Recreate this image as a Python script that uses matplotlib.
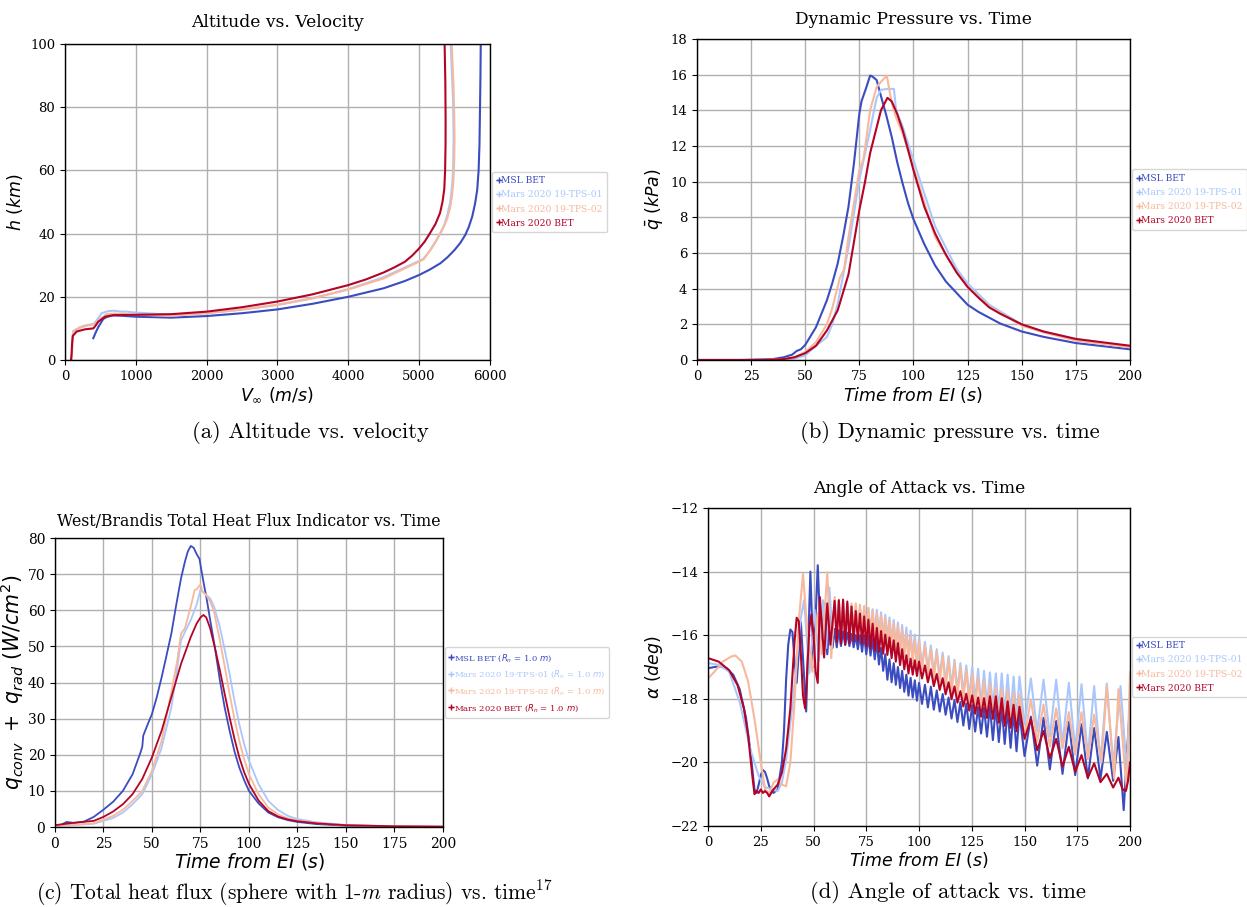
import matplotlib
matplotlib.use('Agg')
import matplotlib.pyplot as plt
from matplotlib.lines import Line2D

plt.rcParams['font.family'] = 'DejaVu Serif'
plt.rcParams['mathtext.fontset'] = 'dejavusans'

colors = ['#3b4cc0', '#aac7fd', '#f7b89c', '#b40426']
names = ['MSL BET', 'Mars 2020 19-TPS-01', 'Mars 2020 19-TPS-02', 'Mars 2020 BET']
names_c = [n + r' ($R_n$ = 1.0 $m$)' for n in names]

# (a) altitude vs velocity
vel_msl = [400, 430, 470, 541, 600, 682, 800, 1000, 1500, 2000, 2500, 3000, 3500, 4000, 4500, 4800, 5000,
           5150, 5300, 5400, 5500, 5580, 5650, 5700, 5750, 5790, 5820, 5840, 5852, 5860, 5866, 5870]
alt_msl = [6.9, 8.5, 10.4, 13.0, 13.7, 14.1, 14.0, 13.7, 13.4, 13.9, 14.8, 16.0, 17.8, 20.0, 22.7, 25.0, 26.9,
           28.6, 30.6, 32.5, 34.8, 37.0, 39.5, 42.0, 45.4, 49.5, 53.8, 60, 68, 80, 90, 100]
vel_tps1 = [95, 105, 118, 212, 300, 400, 430, 518, 600, 682, 800, 870, 1000, 1300, 1500, 2000, 2500, 3000,
            3500, 4000, 4500, 4800, 4950, 5060, 5150, 5220, 5300, 5360, 5400, 5440, 5465, 5480, 5487, 5480,
            5465, 5445]
alt_tps1 = [0, 6, 9.2, 10.4, 11.0, 11.4, 12.0, 14.8, 15.4, 15.6, 15.3, 15.3, 15.0, 14.6, 14.3, 14.8, 15.9, 17.4,
            19.5, 22.4, 26.2, 29.3, 30.8, 32, 34.5, 37, 40.2, 43, 46, 50, 55, 60, 70, 82, 90, 100]
vel_tps2 = [95, 105, 118, 212, 300, 400, 430, 494, 588, 700, 1000, 1500, 2000, 2500, 3000, 3500, 4000, 4500,
            4800, 4950, 5060, 5150, 5230, 5300, 5360, 5400, 5440, 5465, 5485, 5495, 5500, 5495, 5485, 5460]
alt_tps2 = [0, 6, 9.0, 10.2, 10.8, 11.2, 11.6, 12.9, 14.5, 14.7, 14.3, 14.0, 14.8, 16.0, 17.5, 19.6, 22.3, 25.8,
            29.0, 30.6, 31.8, 34.5, 37.3, 40.0, 42.8, 45.0, 48.5, 52, 57, 63, 70, 78, 87, 100]
vel_m20 = [85, 94, 100, 110, 165, 282, 400, 430, 470, 565, 682, 1000, 1500, 2000, 2500, 3000, 3500, 4000,
           4250, 4500, 4650, 4800, 4900, 5000, 5080, 5150, 5230, 5295, 5330, 5355, 5367, 5373, 5374, 5370,
           5360]
alt_m20 = [0, 2, 5, 7.6, 9.0, 9.7, 10.0, 10.8, 12.1, 13.7, 14.2, 14.3, 14.5, 15.3, 16.7, 18.5, 20.8, 23.7,
           25.5, 27.7, 29.3, 31.1, 33.0, 35.3, 37.5, 40, 43.0, 46.5, 50, 54, 60, 68, 76, 88, 100]

# (b) dynamic pressure vs time
tq_msl = [0, 20, 35, 40, 44, 45, 46, 48, 50, 55, 60, 62.5, 65, 67.5, 70, 72.5, 75, 76, 78, 80, 81, 83, 85,
          87.5, 90, 92.5, 95, 97.5, 100, 105, 110, 115, 125, 130, 140, 150, 160, 175, 200]
q_msl = [0, 0, 0.05, 0.15, 0.3, 0.4, 0.5, 0.6, 0.84, 1.84, 3.34, 4.3, 5.4, 6.9, 8.6, 11.0, 13.8, 14.5, 15.2,
         15.95, 15.9, 15.7, 14.8, 13.7, 12.5, 11.1, 9.9, 8.8, 7.9, 6.5, 5.3, 4.4, 3.1, 2.7, 2.05, 1.6, 1.3,
         0.95, 0.6]
tq_tps1 = [0, 30, 40, 45, 50, 55, 60, 62.5, 65, 70, 75, 80, 83, 85, 88, 91, 92, 95, 100, 110, 120, 125, 135,
           150, 160, 175, 200]
q_tps1 = [0, 0, 0.02, 0.08, 0.25, 0.8, 1.28, 2.0, 3.15, 6.3, 10.1, 12.9, 14.7, 15.15, 15.2, 15.2, 14.0,
          13.1, 11.2, 7.5, 5.1, 4.3, 3.1, 2.0, 1.6, 1.18, 0.75]
tq_tps2 = [0, 30, 40, 45, 50, 55, 60, 62.5, 65, 66, 68, 70, 75, 77, 80, 83, 85, 87.7, 90, 92, 95, 100, 110,
           120, 125, 135, 150, 160, 175, 200]
q_tps2 = [0, 0, 0.05, 0.15, 0.45, 1.0, 2.0, 2.9, 4.1, 4.6, 5.1, 6.9, 10.65, 11.3, 14.0, 15.3, 15.6, 15.94,
          14.4, 13.6, 12.7, 10.8, 6.9, 4.9, 4.1, 3.0, 1.93, 1.55, 1.09, 0.71]
tq_m20 = [0, 30, 40, 45, 50, 55, 60, 65, 70, 75, 77.5, 80, 82.5, 85, 88, 90, 92.5, 95, 97.5, 100, 105, 110,
          115, 120, 125, 130, 135, 140, 150, 160, 175, 200]
q_m20 = [0, 0, 0.05, 0.15, 0.38, 0.8, 1.65, 2.78, 4.8, 8.4, 9.9, 11.6, 12.8, 14.0, 14.7, 14.5, 13.8, 12.9,
         11.8, 10.65, 8.6, 7.1, 5.9, 4.9, 4.1, 3.5, 2.95, 2.6, 2.0, 1.6, 1.18, 0.8]

# (c) total heat flux vs time
th_msl = [0, 2, 6, 10, 15, 20, 25, 30, 35, 40, 44, 45, 45.5, 48, 50, 52.5, 55, 57.5, 60, 62.5, 65, 67, 68.5,
          70, 71.5, 73, 74.5, 75.5, 77, 78, 80, 82.5, 85, 87.5, 90, 92.5, 95, 97.5, 100, 105, 110, 115, 120,
          125, 135, 150, 175, 200]
qh_msl = [0, 0.3, 1.4, 1.1, 1.5, 2.8, 4.8, 7.0, 10.0, 14.6, 20.5, 22.2, 25.3, 28.7, 31.3, 36, 41.5, 47.5,
          53.6, 61.5, 68.9, 73.5, 76.3, 77.8, 77.3, 75.6, 74.2, 71, 66.5, 63.8, 57.3, 49.5, 40.6, 33, 26.7, 21,
          16.5, 13, 10.0, 6.5, 4.0, 2.7, 1.9, 1.4, 0.8, 0.37, 0.1, 0.05]
th_tps1 = [0, 20, 30, 35, 40, 45, 50, 55, 60, 62.5, 65, 67, 70, 73, 75, 77, 80, 82, 85, 87.5, 90, 92.5, 95,
           97.5, 100, 105, 110, 115, 120, 125, 135, 150, 175, 200]
qh_tps1 = [0.2, 0.9, 2.5, 4.0, 6.3, 9.1, 14.6, 22, 33.1, 42, 51.7, 54, 57.3, 61.5, 65.6, 64.7, 63.3, 61,
           55.4, 49, 42.4, 35, 28.5, 23, 18.4, 11.8, 7.2, 4.7, 3.1, 2.2, 1.3, 0.55, 0.2, 0.1]
th_tps2 = [0, 20, 30, 35, 40, 45, 50, 55, 60, 63, 65, 67, 70, 72, 73, 75, 76, 78, 80, 82, 85, 87.5, 90,
           92.5, 95, 97.5, 100, 105, 110, 115, 120, 125, 135, 150, 175, 200]
qh_tps2 = [0.3, 1.0, 3.1, 4.8, 7.2, 10.0, 15.6, 23.9, 37.5, 46, 53.6, 55, 61, 65.6, 65.8, 67.2, 65.2, 64.2,
           62.4, 59.6, 51.7, 44.5, 36.9, 30, 23.9, 18.8, 14.6, 9.0, 5.4, 3.5, 2.4, 1.8, 1.1, 0.5, 0.2, 0.1]
th_m20 = [0, 10, 20, 25, 30, 35, 40, 45, 50, 55, 60, 65, 70, 73, 75, 76.5, 78, 80, 82.5, 85, 87.5, 90, 92.5,
          95, 97.5, 100, 105, 110, 115, 120, 125, 135, 150, 175, 200]
qh_m20 = [0.5, 1.2, 1.7, 2.8, 4.3, 6.3, 9.1, 13.3, 19.3, 26.7, 36, 45.2, 52.6, 56.3, 58.0, 58.7, 58.0, 55.0,
          49.5, 43.4, 36.8, 30.4, 24.5, 19.3, 15.2, 11.9, 7.3, 4.4, 2.9, 2.1, 1.6, 1.0, 0.5, 0.2, 0.1]

# (d) angle of attack: smooth start, then peaks/troughs of the oscillation, then the end
ta_msl_start = [0, 3, 6, 9, 12, 15, 18, 20, 22, 23, 24, 25, 26, 27, 28, 29, 31, 33, 35, 36, 37, 38, 39, 40,
                41, 42, 44, 46.5, 48.5, 50, 52, 53.5, 55, 56.5, 58, 59]
aoa_msl_start = [-17.04, -17.0, -16.98, -17.05, -17.25, -17.7, -18.6, -19.6, -20.85, -20.96, -20.7, -20.4,
                 -20.24, -20.3, -20.5, -20.75, -20.96, -20.85, -20.0, -19.0, -17.4, -16.3, -15.82, -15.9,
                 -16.8, -17.5, -15.6, -18.4, -14.0, -17.0, -13.8, -16.3, -15.0, -16.6, -15.4, -16.4]
ta_tps1_start = [0, 5, 10, 15, 20, 24, 27, 30, 33, 35, 37, 40, 42, 44, 45.5, 48, 50.5, 52.5, 54.5, 56,
                 57.5, 59]
aoa_tps1_start = [-16.88, -16.93, -17.15, -18.1, -19.58, -20.43, -20.77, -20.85, -20.9, -20.64, -19.9,
                  -18.2, -16.83, -15.45, -14.9, -17.2, -15.2, -16.8, -14.9, -16.4, -14.5, -16.0]
ta_tps2_start = [0, 3, 7, 11, 13, 16, 19, 22, 25, 27, 29, 31, 33, 35, 37, 39, 41, 43, 45, 47, 49.4, 52,
                 54, 56.5, 58.4]
aoa_tps2_start = [-17.36, -17.15, -16.83, -16.67, -16.64, -16.83, -17.46, -18.63, -20.0, -20.85, -20.96,
                  -20.64, -20.53, -20.7, -20.75, -20.0, -18.1, -15.56, -14.07, -15.8, -17.15, -15.3,
                  -16.6, -14.02, -16.72]
ta_m20_start = [0, 5, 10, 14, 17, 19, 21, 22, 23, 24, 25, 26, 27, 28, 29, 30, 31, 33, 35, 37, 39, 41, 42,
                43, 44, 45, 46, 47, 48, 49, 50, 51, 52, 53, 55, 56.5, 58]
aoa_m20_start = [-16.72, -16.83, -17.1, -17.57, -18.3, -19.16, -20.43, -21.0, -20.9, -20.96, -20.85,
                 -20.96, -20.9, -20.96, -21.07, -20.95, -20.85, -20.7, -20.32, -19.58, -18.31, -16.2,
                 -15.45, -15.56, -16.6, -17.9, -18.3, -17.15, -15.77, -15.35, -16.0, -17.15, -17.5,
                 -14.8, -16.7, -15.0, -16.3]

t_osc = [60, 61, 62, 63, 64, 65, 66, 67, 68, 69, 70, 71, 72, 73, 74, 75, 76, 77, 78, 79,
         80, 81, 82, 83, 84, 85, 86, 87, 88, 89, 90, 91, 92, 93, 94, 95, 96, 97, 98, 99,
         100, 101.4, 102.8, 104.2, 105.6, 107, 108.4, 109.8, 111.2, 112.6, 114, 115.4, 116.8, 118.2,
         119.6, 121, 122.4, 123.8, 125.2, 126.6, 128, 129.4, 130.8, 132.2, 133.6, 135, 136.4, 137.8,
         139.2, 140.6, 142, 143.4, 144.8, 146.2, 147.6,
         150, 153, 156, 159, 162, 165, 168, 171, 174, 177, 180, 183, 186, 189, 192]
aoa_msl_osc = [-15.8, -16.38, -15.84, -16.34, -15.88, -16.3, -15.92, -16.34, -15.96, -16.38,
               -16.0, -16.44, -16.0, -16.52, -16.0, -16.6, -16.04, -16.64, -16.12, -16.76,
               -16.2, -16.92, -16.4, -17.12, -16.6, -17.4, -16.76, -17.48, -16.88, -17.56,
               -17.0, -17.66, -17.12, -17.78, -17.24, -17.9, -17.34, -17.96, -17.42, -18.06,
               -17.5, -18.16, -17.56, -18.27, -17.62, -18.34, -17.74, -18.4, -17.85, -18.5,
               -17.96, -18.62, -18.04, -18.73, -18.1, -18.84, -18.15, -18.95, -18.2, -19.03,
               -18.26, -19.09, -18.28, -19.19, -18.23, -19.3, -18.23, -19.36, -18.28, -19.42,
               -18.34, -19.54, -18.4, -19.65, -18.46,
               -19.8, -18.56, -20.1, -18.6, -20.22, -18.7, -20.36, -18.72, -20.4, -18.8, -20.5,
               -18.92, -20.52, -19.04, -20.58]
aoa_tps1_osc = [-14.9, -15.81, -14.94, -15.83, -14.98, -15.85, -15.02, -15.87, -15.06, -15.89,
                -15.1, -15.91, -15.12, -15.93, -15.14, -15.95, -15.16, -15.97, -15.18, -15.99,
                -15.2, -16.02, -15.28, -16.06, -15.36, -16.1, -15.44, -16.22, -15.52, -16.34,
                -15.6, -16.44, -15.68, -16.52, -15.76, -16.6, -15.86, -16.72, -15.98, -16.84,
                -16.1, -16.96, -16.21, -17.07, -16.32, -17.18, -16.44, -17.29, -16.55, -17.46,
                -16.66, -17.62, -16.77, -17.73, -16.88, -17.84, -16.95, -17.95, -17.0, -18.06,
                -17.06, -18.18, -17.12, -18.24, -17.17, -18.3, -17.2, -18.41, -17.2, -18.51,
                -17.24, -18.57, -17.3, -18.65, -17.3,
                -18.8, -17.36, -19.02, -17.4, -19.18, -17.4, -19.42, -17.5, -19.58, -17.54, -19.8,
                -17.6, -20.0, -17.52, -20.08]
aoa_tps2_osc = [-14.8, -15.98, -14.88, -15.94, -14.96, -15.9, -15.0, -15.86, -15.0, -15.82,
                -15.0, -15.82, -15.04, -15.86, -15.08, -15.9, -15.14, -15.98, -15.22, -16.06,
                -15.3, -16.14, -15.38, -16.22, -15.46, -16.3, -15.54, -16.38, -15.62, -16.46,
                -15.7, -16.56, -15.82, -16.68, -15.94, -16.8, -16.04, -16.88, -16.12, -16.96,
                -16.2, -17.08, -16.31, -17.25, -16.42, -17.38, -16.54, -17.49, -16.65, -17.66,
                -16.76, -17.82, -16.87, -17.93, -16.98, -18.04, -17.1, -18.15, -17.21, -18.26,
                -17.32, -18.38, -17.43, -18.49, -17.54, -18.6, -17.63, -18.71, -17.68, -18.81,
                -17.74, -18.85, -17.8, -18.97, -17.85,
                -19.2, -18.02, -19.34, -18.18, -19.5, -18.3, -19.56, -18.42, -19.76, -18.42, -19.9]
aoa_m20_osc = [-14.92, -16.21, -14.9, -16.26, -14.88, -16.3, -14.94, -16.24, -15.1, -16.17,
               -15.24, -16.18, -15.32, -16.27, -15.41, -16.35, -15.51, -16.41, -15.64, -16.48,
               -15.77, -16.53, -15.87, -16.58, -15.98, -16.62, -16.07, -16.72, -16.16, -16.83,
               -16.25, -16.94, -16.44, -17.07, -16.63, -17.2, -16.74, -17.24, -16.79, -17.28,
               -16.83, -17.36, -16.95, -17.48, -17.07, -17.6, -17.22, -17.72, -17.35, -17.86,
               -17.48, -18.01, -17.61, -18.12, -17.76, -18.24, -17.84, -18.37, -17.89, -18.47,
               -17.96, -18.56, -17.98, -18.6, -17.92, -18.63, -17.92, -18.75, -17.98, -18.85,
               -18.08, -18.91, -18.19, -19.02, -18.25,
               -19.26, -18.63, -19.62, -19.01, -19.87, -19.26, -20.13, -19.51, -20.3, -19.77, -20.48,
               -20.03, -20.62, -20.36, -20.79]

ta_msl_end = [194.5, 197, 200]
aoa_msl_end = [-19.2, -21.5, -18.1]
ta_tps1_end = [195.5, 198.5, 200]
aoa_tps1_end = [-17.6, -20.3, -18.1]
ta_tps2_end = [183, 186.5, 189, 192.5, 194.5, 198.4, 200]
aoa_tps2_end = [-18.5, -20.0, -17.6, -20.5, -17.7, -20.85, -17.15]
ta_m20_end = [194.5, 196.5, 198, 199, 200]
aoa_m20_end = [-20.48, -20.85, -20.9, -20.6, -20.0]


def aoa_series(t_start, a_start, a_osc, t_end, a_end):
    t = t_start + t_osc[:len(a_osc)] + t_end
    a = a_start + a_osc + a_end
    return t, a


fig = plt.figure(figsize=(12.47, 9.07), dpi=100)
ax1 = fig.add_axes([0.0521, 0.6031, 0.3408, 0.3484])
ax2 = fig.add_axes([0.5589, 0.6031, 0.3472, 0.3539])
ax3 = fig.add_axes([0.0441, 0.0882, 0.3111, 0.3186])
ax4 = fig.add_axes([0.5678, 0.0893, 0.3384, 0.3506])


def style(ax, size=9.5):
    ax.grid(True, color='#b0b0b0', lw=1.0)
    ax.set_axisbelow(True)
    ax.tick_params(labelsize=size, length=3.5)
    for s in ax.spines.values():
        s.set_linewidth(1.0)


def add_legend(ax, labels, size=6.6):
    handles = [Line2D([], [], color=c, lw=1, marker='+', ms=4) for c in colors]
    ax.legend(handles, labels, loc='center left', bbox_to_anchor=(1.0, 0.5), fontsize=size,
              handlelength=0.4, handletextpad=0.1, labelcolor=colors, borderpad=0.5,
              labelspacing=0.55, borderaxespad=0.25)


# (a)
for v, h, c in zip([vel_msl, vel_tps1, vel_tps2, vel_m20], [alt_msl, alt_tps1, alt_tps2, alt_m20], colors):
    ax1.plot(v, h, color=c, lw=1.5)
ax1.set_xlim(0, 6000)
ax1.set_ylim(0, 100)
ax1.set_title('Altitude vs. Velocity', fontsize=12.3, pad=12)
ax1.set_xlabel(r'$V_{\infty}\ (m/s)$', fontsize=12.5, labelpad=2)
ax1.set_ylabel(r'$h\ (km)$', fontsize=12.5)
style(ax1)
add_legend(ax1, names)

# (b)
for t, q, c in zip([tq_msl, tq_tps1, tq_tps2, tq_m20], [q_msl, q_tps1, q_tps2, q_m20], colors):
    ax2.plot(t, q, color=c, lw=1.5)
ax2.set_xlim(0, 200)
ax2.set_ylim(0, 18)
ax2.set_xticks(range(0, 201, 25))
ax2.set_yticks(range(0, 19, 2))
ax2.set_title('Dynamic Pressure vs. Time', fontsize=12.3, pad=11)
ax2.set_xlabel(r'$Time\ from\ EI\ (s)$', fontsize=12.5, labelpad=2)
ax2.set_ylabel(r'$\bar{q}\ (kPa)$', fontsize=12.5)
style(ax2)
add_legend(ax2, names)

# (c)
for t, q, c in zip([th_msl, th_tps1, th_tps2, th_m20], [qh_msl, qh_tps1, qh_tps2, qh_m20], colors):
    ax3.plot(t, q, color=c, lw=1.3)
ax3.set_xlim(0, 200)
ax3.set_ylim(0, 80)
ax3.set_xticks(range(0, 201, 25))
ax3.set_yticks(range(0, 81, 10))
ax3.set_title('West/Brandis Total Heat Flux Indicator vs. Time', fontsize=11.3, pad=9)
ax3.set_xlabel(r'$Time\ from\ EI\ (s)$', fontsize=13.5, labelpad=0)
ax3.set_ylabel(r'$q_{conv}\ +\ q_{rad}\ (W/cm^2)$', fontsize=14.8, labelpad=1)
style(ax3, 10)
add_legend(ax3, names_c, 6.1)

# (d)
series_d = [aoa_series(ta_msl_start, aoa_msl_start, aoa_msl_osc, ta_msl_end, aoa_msl_end),
            aoa_series(ta_tps1_start, aoa_tps1_start, aoa_tps1_osc, ta_tps1_end, aoa_tps1_end),
            aoa_series(ta_tps2_start, aoa_tps2_start, aoa_tps2_osc, ta_tps2_end, aoa_tps2_end),
            aoa_series(ta_m20_start, aoa_m20_start, aoa_m20_osc, ta_m20_end, aoa_m20_end)]
for (t, a), c in zip(series_d, colors):
    ax4.plot(t, a, color=c, lw=1.5)
ax4.set_xlim(0, 200)
ax4.set_ylim(-22, -12)
ax4.set_xticks(range(0, 201, 25))
ax4.set_yticks(range(-22, -11, 2))
ax4.set_title('Angle of Attack vs. Time', fontsize=12.3, pad=11)
ax4.set_xlabel(r'$Time\ from\ EI\ (s)$', fontsize=12.5, labelpad=1)
ax4.set_ylabel(r'$\alpha\ (deg)$', fontsize=12.5)
style(ax4)
add_legend(ax4, names)

# captions under the panels
cap = dict(fontsize=16.3, family='cmr10', math_fontfamily='cm', ha='center', va='center')
fig.text(310 / 1247, 1 - 433 / 907, '(a) Altitude vs. velocity', **cap)
fig.text(950 / 1247, 1 - 433 / 907, '(b) Dynamic pressure vs. time', **cap)
fig.text(294 / 1247, 1 - 893 / 907, r'(c) Total heat flux (sphere with 1-$m$ radius) vs. time$^{17}$',
         **dict(cap, fontsize=15.5))
fig.text(948 / 1247, 1 - 893 / 907, '(d) Angle of attack vs. time', **cap)

fig.savefig('out.png', dpi=100)
